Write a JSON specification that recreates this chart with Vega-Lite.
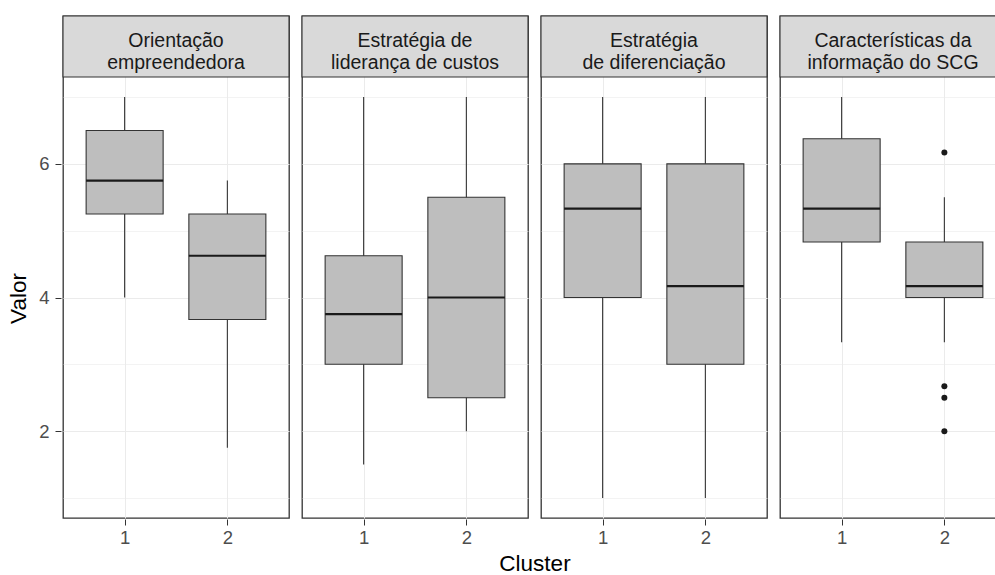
{
  "$schema": "https://vega.github.io/schema/vega-lite/v6.json",
  "padding": {"left": 7, "top": 14, "right": 0, "bottom": 0},
  "background": "white",
  "data": {"values": [
    {"panel": "Orientação\nempreendedora", "cluster": 1, "lower": 4, "q1": 5.25, "median": 5.75, "q3": 6.5, "upper": 7},
    {"panel": "Orientação\nempreendedora", "cluster": 2, "lower": 1.75, "q1": 3.67, "median": 4.625, "q3": 5.25, "upper": 5.75},
    {"panel": "Estratégia de\nliderança de custos", "cluster": 1, "lower": 1.5, "q1": 3, "median": 3.75, "q3": 4.625, "upper": 7},
    {"panel": "Estratégia de\nliderança de custos", "cluster": 2, "lower": 2, "q1": 2.5, "median": 4, "q3": 5.5, "upper": 7},
    {"panel": "Estratégia\nde diferenciação", "cluster": 1, "lower": 1, "q1": 4, "median": 5.33, "q3": 6, "upper": 7},
    {"panel": "Estratégia\nde diferenciação", "cluster": 2, "lower": 1, "q1": 3, "median": 4.17, "q3": 6, "upper": 7},
    {"panel": "Características da\ninformação do SCG", "cluster": 1, "lower": 3.33, "q1": 4.83, "median": 5.33, "q3": 6.375, "upper": 7},
    {"panel": "Características da\ninformação do SCG", "cluster": 2, "lower": 3.33, "q1": 4, "median": 4.17, "q3": 4.83, "upper": 5.5},
    {"panel": "Características da\ninformação do SCG", "cluster": 2, "outlier": 6.17},
    {"panel": "Características da\ninformação do SCG", "cluster": 2, "outlier": 2.67},
    {"panel": "Características da\ninformação do SCG", "cluster": 2, "outlier": 2.5},
    {"panel": "Características da\ninformação do SCG", "cluster": 2, "outlier": 2}
  ]},
  "facet": {
    "column": {
      "field": "panel",
      "type": "nominal",
      "sort": ["Orientação\nempreendedora", "Estratégia de\nliderança de custos", "Estratégia\nde diferenciação", "Características da\ninformação do SCG"],
      "header": {"title": "Cluster", "titleOrient": "bottom", "labels": false, "titleFontSize": 22.5, "titleColor": "#000000", "titleFontWeight": "normal", "titlePadding": -4}
    }
  },
  "spacing": 9,
  "spec": {
    "width": 226,
    "height": 502,
    "encoding": {
      "x": {"field": "cluster", "type": "quantitative", "title": null,
        "scale": {"domain": [0.4, 2.6], "nice": false, "zero": false, "padding": 0},
        "axis": {"values": [1, 2], "format": "d", "domain": false, "grid": true, "gridColor": "#EBEBEB", "gridWidth": 1,
          "tickColor": "#333333", "tickSize": 6, "labelColor": "#4D4D4D", "labelFontSize": 18.5, "labelPadding": 3}},
      "y": {"type": "quantitative"}
    },
    "layer": [
      {
        "transform": [{"filter": "isValid(datum.median)"}],
        "mark": {"type": "rule", "color": "#333333", "strokeWidth": 1.1},
        "encoding": {
          "y": {"field": "lower", "type": "quantitative", "title": "Valor",
            "scale": {"domain": [0.7, 8.213], "nice": false, "zero": false, "padding": 0},
            "axis": {"values": [1, 2, 3, 4, 5, 6, 7], "format": "d", "domain": false, "grid": true, "gridColor": "#EBEBEB",
              "gridWidth": {"condition": {"test": "datum.value % 2 == 1", "value": 0.6}, "value": 1.1},
              "tickOpacity": {"condition": {"test": "datum.value % 2 == 1", "value": 0}, "value": 1},
              "labelExpr": "datum.value % 2 == 0 ? datum.label : ''",
              "tickColor": "#333333", "tickSize": 6, "labelColor": "#4D4D4D", "labelFontSize": 18.5, "labelPadding": 6,
              "titleFontSize": 22.5, "titleFontWeight": "normal", "titleColor": "#000000", "titleY": 282, "titlePadding": 8}},
          "y2": {"field": "upper"}
        }
      },
      {
        "transform": [{"filter": "isValid(datum.median)"}],
        "mark": {"type": "bar", "orient": "vertical", "size": 77, "fill": "#BEBEBE", "stroke": "#333333", "strokeWidth": 1.1},
        "encoding": {
          "y": {"field": "q1", "type": "quantitative"},
          "y2": {"field": "q3"}
        }
      },
      {
        "transform": [{"filter": "isValid(datum.median)"}],
        "mark": {"type": "tick", "orient": "horizontal", "size": 77, "thickness": 2.2, "color": "#1A1A1A", "opacity": 1},
        "encoding": {
          "y": {"field": "median", "type": "quantitative"}
        }
      },
      {
        "transform": [{"filter": "isValid(datum.outlier)"}],
        "mark": {"type": "circle", "size": 36, "color": "#1A1A1A", "opacity": 1},
        "encoding": {
          "y": {"field": "outlier", "type": "quantitative"}
        }
      },
      {
        "transform": [{"filter": "isValid(datum.median) && datum.cluster == 1"}],
        "mark": {"type": "rect", "fill": "#D9D9D9", "stroke": "#333333", "strokeWidth": 1.1},
        "encoding": {
          "x": {"datum": 0.4},
          "x2": {"datum": 2.6},
          "y": {"datum": 7.3},
          "y2": {"datum": 8.213}
        }
      },
      {
        "transform": [{"filter": "isValid(datum.median) && datum.cluster == 1"}],
        "mark": {"type": "text", "lineBreak": "\n", "fontSize": 19.5, "lineHeight": 22, "dy": -5, "color": "#1A1A1A", "align": "center", "baseline": "middle"},
        "encoding": {
          "x": {"datum": 1.5},
          "y": {"datum": 7.757},
          "text": {"field": "panel"}
        }
      }
    ]
  },
  "config": {
    "font": "Liberation Sans",
    "view": {"stroke": "#333333", "strokeWidth": 1.3},
    "axis": {"labelFont": "Liberation Sans", "titleFont": "Liberation Sans"}
  }
}
